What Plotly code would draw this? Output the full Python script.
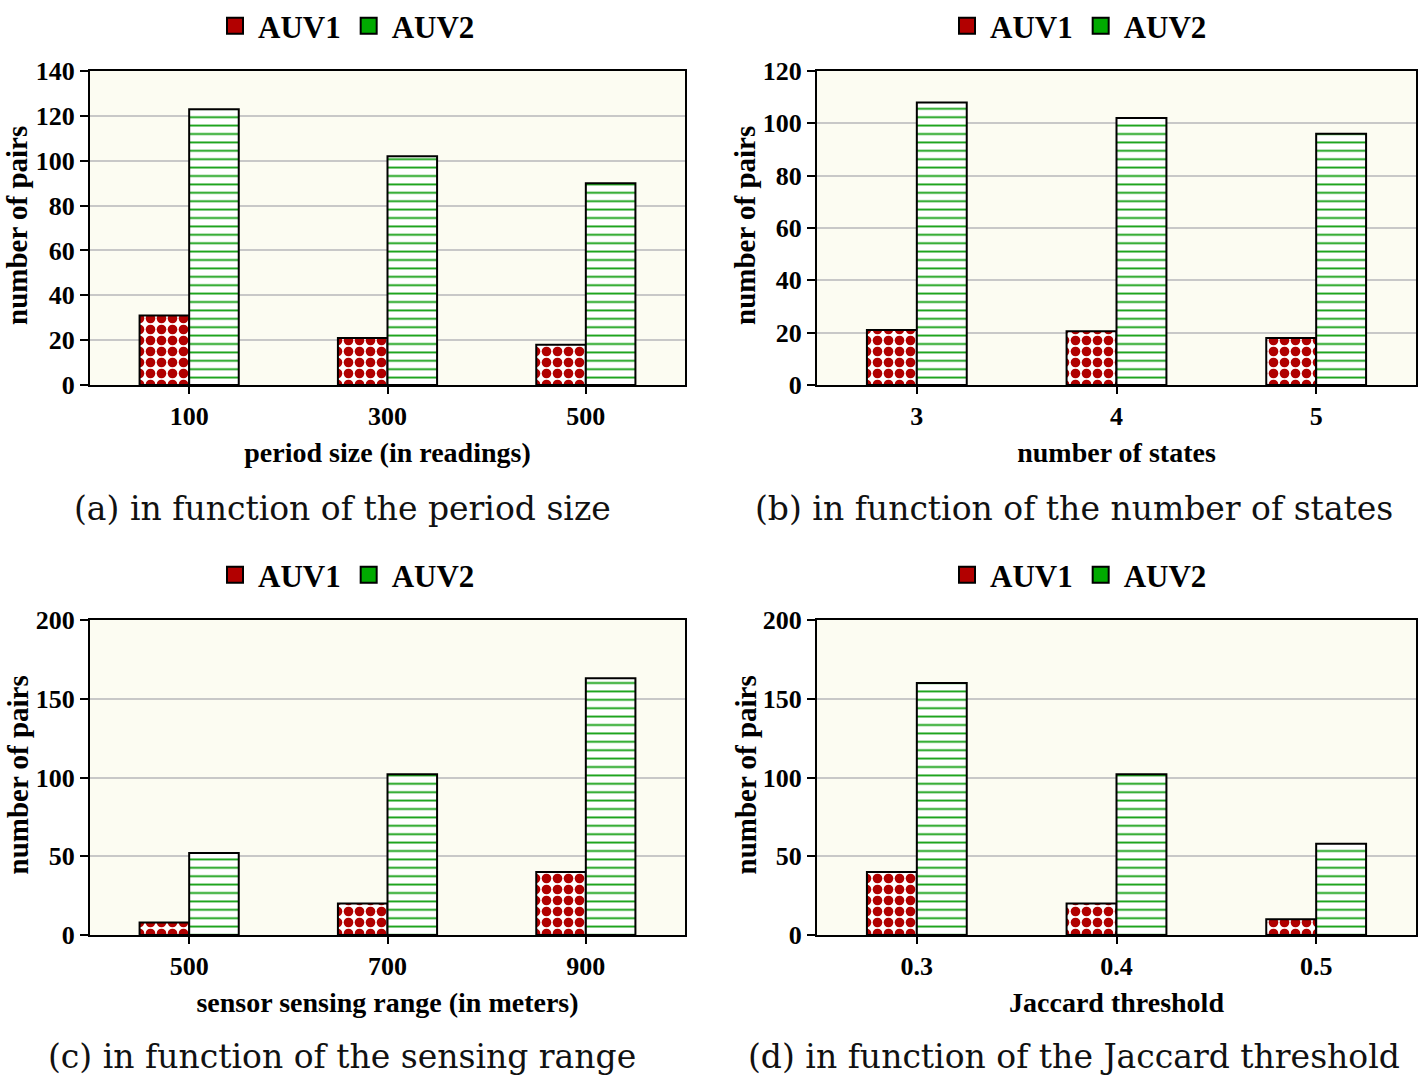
import plotly.graph_objects as go

# ---- data ----
period_sizes = ["100", "300", "500"]
period_auv1 = [31, 21, 18]
period_auv2 = [123, 102, 90]

num_states = ["3", "4", "5"]
states_auv1 = [21, 20.5, 18]
states_auv2 = [108, 102, 96]

sensing_ranges = ["500", "700", "900"]
range_auv1 = [8, 20, 40]
range_auv2 = [52, 102, 163]

jaccard_thresholds = ["0.3", "0.4", "0.5"]
jaccard_auv1 = [40, 20, 10]
jaccard_auv2 = [160, 102, 58]

W, H = 1424, 1076
RED = "#b20000"
GREEN = "#00aa00"
BOLD = "Liberation Serif, Times New Roman, Times, serif"

panels = [
    dict(cats=period_sizes, a1=period_auv1, a2=period_auv2, ymax=140, dtick=20,
         xtitle="period size (in readings)", caption="(a) in function of the period size",
         px=(90, 685), py=(71, 385), lgx=346, capx=342, capy=508, ytx=17),
    dict(cats=num_states, a1=states_auv1, a2=states_auv2, ymax=120, dtick=20,
         xtitle="number of states", caption="(b) in function of the number of states",
         px=(817, 1416), py=(71, 385), lgx=1078, capx=1074, capy=508, ytx=745),
    dict(cats=sensing_ranges, a1=range_auv1, a2=range_auv2, ymax=200, dtick=50,
         xtitle="sensor sensing range (in meters)", caption="(c) in function of the sensing range",
         px=(90, 685), py=(620, 935), lgx=346, capx=342, capy=1056, ytx=17),
    dict(cats=jaccard_thresholds, a1=jaccard_auv1, a2=jaccard_auv2, ymax=200, dtick=50,
         xtitle="Jaccard threshold", caption="(d) in function of the Jaccard threshold",
         px=(817, 1416), py=(620, 935), lgx=1078, capx=1074, capy=1056, ytx=745),
]


def fx(px):
    return px / W


def fy(py):
    return 1 - py / H


fig = go.Figure()
layout = dict(
    width=W, height=H, margin=dict(l=0, r=0, t=0, b=0, autoexpand=False),
    paper_bgcolor="white", barmode="group", bargap=0.5, bargroupgap=0,
    showlegend=True, font=dict(family=BOLD, color="black"),
    annotations=[],
)

for i, p in enumerate(panels):
    n = i + 1
    xa = "x" if n == 1 else f"x{n}"
    ya = "y" if n == 1 else f"y{n}"
    lg = "legend" if n == 1 else f"legend{n}"
    fig.add_trace(go.Bar(
        x=p["cats"], y=p["a1"], name="AUV1", xaxis=xa, yaxis=ya, offsetgroup="1",
        showlegend=False,
        marker=dict(color=RED, line=dict(color="black", width=2),
                    pattern=dict(shape=".", fgcolor="#b00000", bgcolor="white",
                                 fgopacity=1, size=11, solidity=0.6)),
    ))
    fig.add_trace(go.Bar(
        x=p["cats"], y=p["a2"], name="AUV2", xaxis=xa, yaxis=ya, offsetgroup="2",
        showlegend=False,
        marker=dict(color=GREEN, line=dict(color="black", width=2),
                    pattern=dict(shape="-", fgcolor="#12a012", bgcolor="white",
                                 fgopacity=1, size=8.4, solidity=0.22)),
    ))
    # legend swatches
    for nm, col in (("AUV1", RED), ("AUV2", GREEN)):
        fig.add_trace(go.Scatter(
            x=[None], y=[None], mode="markers", name=nm, xaxis=xa, yaxis=ya, legend=lg,
            marker=dict(symbol="square", size=16, color=col, line=dict(color="black", width=2)),
        ))
    xkey = "xaxis" if n == 1 else f"xaxis{n}"
    ykey = "yaxis" if n == 1 else f"yaxis{n}"
    layout[xkey] = dict(
        domain=[fx(p["px"][0]), fx(p["px"][1])], anchor=ya, type="category", automargin=False,
        showline=True, linecolor="black", linewidth=2, mirror=True,
        ticks="outside", ticklen=7, tickwidth=2, tickcolor="black",
        tickfont=dict(family=BOLD, size=26, color="black", weight="bold"),
        title=dict(text="<b>" + p["xtitle"] + "</b>", font=dict(family=BOLD, size=28), standoff=12),
        showgrid=False,
    )
    layout[ykey] = dict(
        domain=[fy(p["py"][1]), fy(p["py"][0])], anchor=xa, range=[0, p["ymax"]],
        dtick=p["dtick"], automargin=False,
        showline=True, linecolor="black", linewidth=2, mirror=True,
        ticks="outside", ticklen=8, tickwidth=2, tickcolor="black",
        tickfont=dict(family=BOLD, size=26, color="black", weight="bold"),
        showgrid=True, gridcolor="#c8c8c8", gridwidth=2, zeroline=False,
    )
    layout[lg] = dict(
        orientation="h", x=fx(p["lgx"]), xanchor="center",
        y=fy(p["py"][0] - 45), yanchor="middle",
        font=dict(family=BOLD, size=31, color="black", weight="bold"),
        bgcolor="rgba(0,0,0,0)", itemwidth=36, tracegroupgap=0,
    )
    # y-axis title
    layout["annotations"].append(dict(
        text="<b>number of pairs</b>", xref="paper", yref="paper",
        x=fx(p["ytx"]), y=fy((p["py"][0] + p["py"][1]) / 2 - 2),
        xanchor="center", yanchor="middle", showarrow=False, textangle=-90,
        font=dict(family=BOLD, size=29, color="black"),
    ))
    # caption
    layout["annotations"].append(dict(
        text=p["caption"], xref="paper", yref="paper",
        x=fx(p["capx"]), y=fy(p["capy"]),
        xanchor="center", yanchor="middle", showarrow=False,
        font=dict(family="DejaVu Serif", size=33, color="#111111"),
    ))

fig.update_layout(**layout)
fig.update_layout(plot_bgcolor="#fcfcf2")
fig.write_html("out.html", config={"displayModeBar": False},
               post_script="document.body.style.margin='0px';document.body.style.overflow='hidden';")
